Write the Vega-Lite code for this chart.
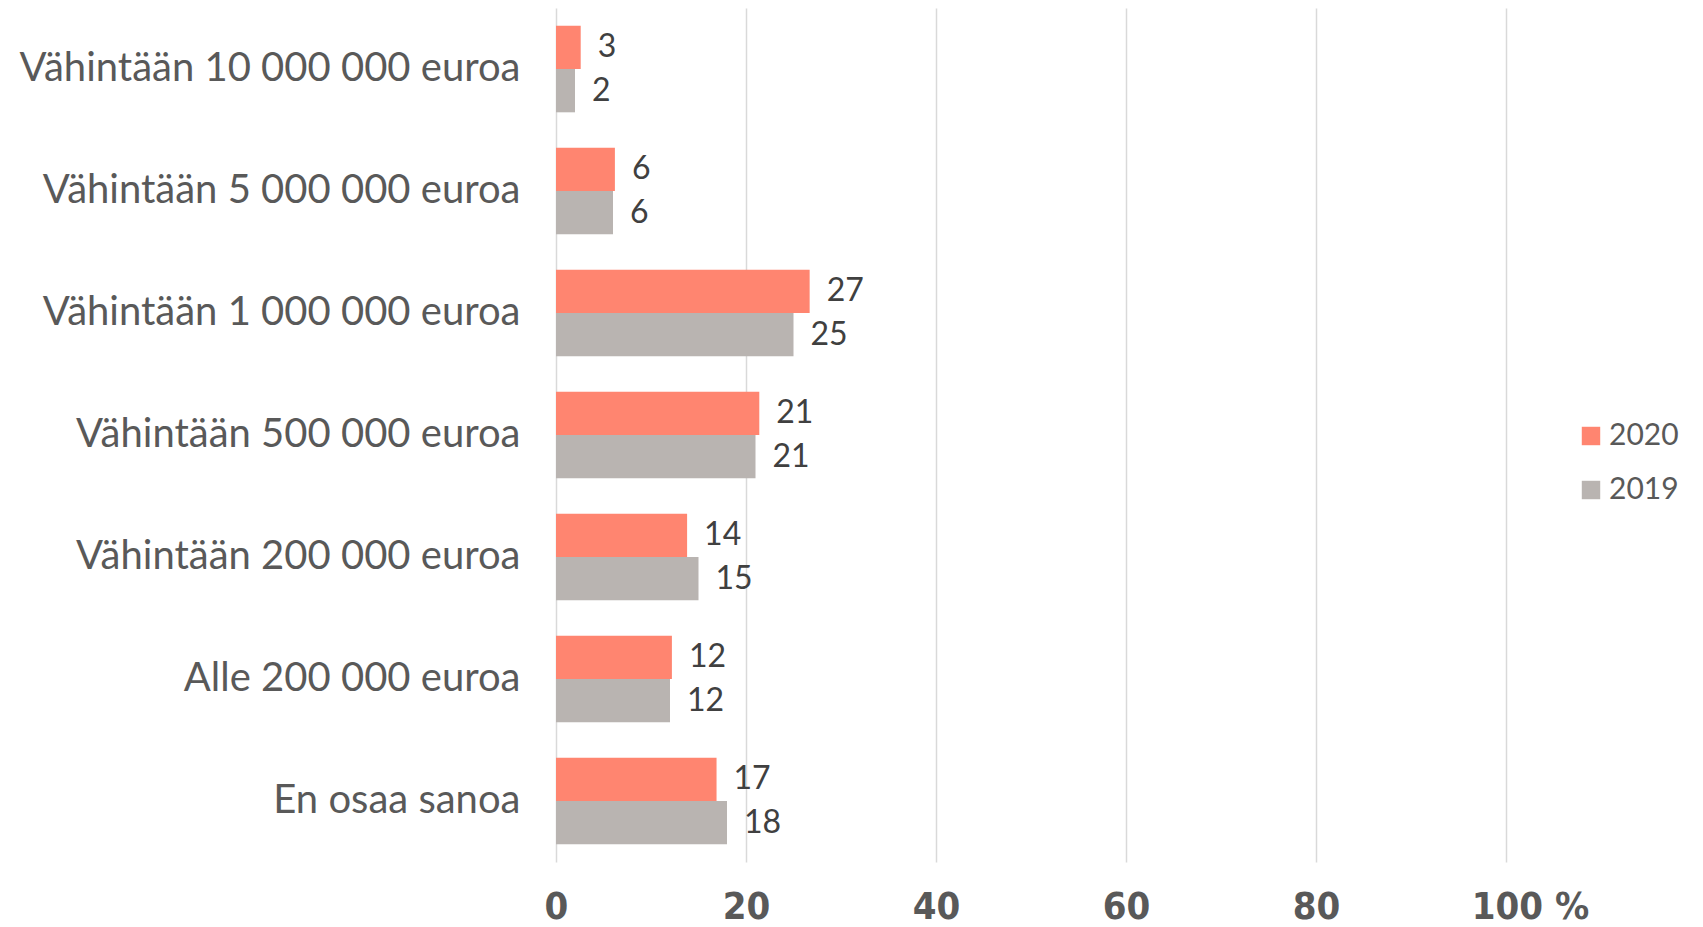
{
  "$schema": "https://vega.github.io/schema/vega-lite/v6.json",
  "autosize": "none",
  "width": 950,
  "height": 854,
  "padding": {"left": 556, "top": 8, "right": 197, "bottom": 65},
  "background": "white",
  "config": {"view": {"stroke": null}, "font": "Lato"},
  "data": {"values": [
    {"cat": "Vähintään 10 000 000 euroa", "year": "2020", "value": 2.6},
    {"cat": "Vähintään 10 000 000 euroa", "year": "2019", "value": 2.0},
    {"cat": "Vähintään 5 000 000 euroa", "year": "2020", "value": 6.2},
    {"cat": "Vähintään 5 000 000 euroa", "year": "2019", "value": 6.0},
    {"cat": "Vähintään 1 000 000 euroa", "year": "2020", "value": 26.7},
    {"cat": "Vähintään 1 000 000 euroa", "year": "2019", "value": 25.0},
    {"cat": "Vähintään 500 000 euroa", "year": "2020", "value": 21.4},
    {"cat": "Vähintään 500 000 euroa", "year": "2019", "value": 21.0},
    {"cat": "Vähintään 200 000 euroa", "year": "2020", "value": 13.8},
    {"cat": "Vähintään 200 000 euroa", "year": "2019", "value": 15.0},
    {"cat": "Alle 200 000 euroa", "year": "2020", "value": 12.2},
    {"cat": "Alle 200 000 euroa", "year": "2019", "value": 12.0},
    {"cat": "En osaa sanoa", "year": "2020", "value": 16.9},
    {"cat": "En osaa sanoa", "year": "2019", "value": 18.0}
  ]},
  "encoding": {
    "y": {
      "field": "cat", "type": "nominal", "sort": null,
      "scale": {"paddingInner": 0.29, "paddingOuter": 0.145},
      "axis": {"title": null, "domain": false, "ticks": false, "labelFontSize": 40, "labelColor": "#595959", "labelPadding": 36, "labelLimit": 600, "labelFont": "Lato"}
    },
    "yOffset": {"field": "year", "type": "nominal", "sort": ["2020", "2019"]},
    "x": {
      "field": "value", "type": "quantitative",
      "scale": {"domain": [0, 100], "nice": false},
      "axis": {"title": null, "values": [0, 20, 40, 60, 80, 100], "domain": false, "ticks": false, "grid": true, "gridColor": "#D9D9D9", "gridWidth": 1.5, "labelFlush": false, "labelFontSize": 38, "labelFontWeight": "bold", "labelFont": "DejaVu Sans Condensed", "labelColor": "#595959", "labelPadding": 26, "labelOffset": {"condition": {"test": "datum.value == 100", "value": 24}, "value": 0}, "labelExpr": "datum.value == 100 ? '100 %' : datum.label"}
    }
  },
  "layer": [
    {
      "mark": {"type": "bar"},
      "encoding": {
        "color": {
          "field": "year", "type": "nominal",
          "scale": {"domain": ["2020", "2019"], "range": ["#FF8570", "#B9B4B1"]},
          "legend": {"title": null, "orient": "none", "legendX": 1020, "legendY": 413, "symbolType": "square", "symbolSize": 340, "symbolStrokeWidth": 0, "labelFontSize": 30, "labelColor": "#595959", "labelFont": "Lato", "rowPadding": 24, "labelOffset": 3}
        }
      }
    },
    {
      "mark": {"type": "text", "align": "left", "baseline": "middle", "dx": 17, "fontSize": 32, "color": "#404040", "font": "Lato"},
      "encoding": {"text": {"field": "value", "type": "quantitative", "format": ".0f"}}
    }
  ]
}
